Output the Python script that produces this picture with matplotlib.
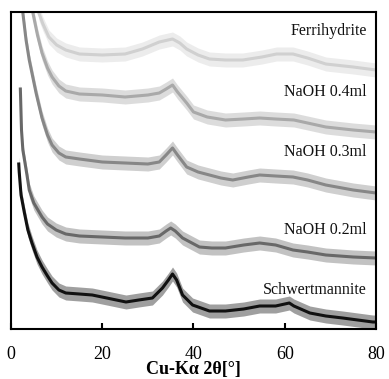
import matplotlib
matplotlib.use("Agg")
import matplotlib.pyplot as plt
import numpy as np

plt.rcParams['font.family'] = ['Liberation Serif', 'DejaVu Serif']

# --- data (intensity in arbitrary units) ---
x_schw = [1.7, 1.8, 2.2, 2.9, 3.7, 4.6, 5.7, 6.8, 8, 9, 10.5, 12, 15, 17.8, 21, 25.2, 28, 31,
          33.2, 34.5, 35.4, 36.3, 37.6, 39.8, 43.5, 47, 51, 54.5, 58, 61, 62, 65.5, 69, 72.7, 76, 79.3, 80]
y_schw = [165, 157, 134, 117, 99, 86, 72, 62, 53, 46, 39, 36, 35, 34, 31, 27, 29, 31,
          41, 49, 55, 49, 34, 24, 18, 18, 20, 23, 23, 26, 23, 16, 13, 11, 9, 7, 7]

x_02 = [2.05, 2.1, 2.3, 2.6, 3.5, 4, 5, 6.8, 8, 9.9, 12, 15, 20, 25, 30, 32.5, 34, 35, 36, 37.6,
        41.3, 44, 47, 51, 54.5, 58, 61.8, 65, 69, 75, 80]
y_02 = [240, 232, 199, 179, 154, 139, 126, 112, 105, 99, 95, 93, 92, 91, 91, 93, 98, 101, 98, 91,
        82, 81, 81, 84, 86, 84, 79, 77, 74, 72, 71]

x_03 = [2.4, 2.6, 3.3, 4, 5.5, 6.8, 8, 9, 10.5, 12, 15, 20, 25, 30, 32.5, 34, 35.4, 36.5, 38.5,
        41, 43.5, 46, 48.6, 52, 54.5, 58, 61.8, 65, 69, 75, 80]
y_03 = [330, 316, 289, 269, 236, 211, 194, 184, 176, 172, 170, 167, 166, 165, 167, 174, 181, 174, 162,
        157, 154, 151, 149, 152, 154, 153, 152, 149, 144, 139, 136]

x_04 = [4.6, 4.8, 5.8, 6.8, 8, 9, 10.5, 12, 15, 20, 25, 30, 32.5, 34, 35.4, 36.5, 38.5, 40,
        43, 47, 51, 54.5, 58, 62, 66, 69, 75, 80]
y_04 = [330, 316, 294, 276, 261, 252, 243, 238, 235, 234, 232, 234, 236, 240, 244, 237, 226, 217,
        212, 209, 210, 211, 210, 209, 205, 202, 199, 197]

x_ferri = [5.9, 6.1, 7, 8.3, 10, 12, 15, 20, 25, 28.8, 32.5, 35.4, 37, 38.5, 41, 43.5, 47, 50.8,
           55, 58.2, 61.8, 65, 69, 75, 80]
y_ferri = [330, 316, 305, 292, 284, 279, 275, 274, 275, 280, 287, 290, 286, 280, 274, 270, 269, 269,
           272, 275, 275, 271, 265, 262, 259]

labels = ["Ferrihydrite", "NaOH 0.4ml", "NaOH 0.3ml", "NaOH 0.2ml", "Schwertmannite"]
label_y = [298, 237, 177, 99, 39]
colors = ["#d0d0d0", "#a9a9a9", "#878787", "#686868", "#111111"]
xticks = [0, 20, 40, 60, 80]

series = [(x_ferri, y_ferri), (x_04, y_04), (x_03, y_03), (x_02, y_02), (x_schw, y_schw)]

fig = plt.figure(figsize=(3.89, 3.79), dpi=100)
ax = fig.add_axes([11 / 389, 1 - 329 / 379, (376 - 11) / 389, (329 - 12) / 379])

band = 7
for (xs, ys), c in zip(series, colors):
    xs = np.asarray(xs, float)
    ys = np.asarray(ys, float)
    ax.fill_between(xs, ys - band, ys + band, color=c, alpha=0.4, lw=0)
    ax.plot(xs, ys, color=c, lw=2.2, solid_joinstyle='round')

for lab, ly in zip(labels, label_y):
    ax.text(78.0, ly, lab, ha='right', va='center', fontsize=11.5, color='#111111')

ax.set_xlim(0, 80)
ax.set_ylim(0, 317)
ax.set_xticks(xticks)
ax.set_xticklabels([str(t) for t in xticks], fontsize=13)
ax.set_yticks([])
ax.tick_params(axis='x', direction='in', length=4, width=1.5, pad=12)
for s in ax.spines.values():
    s.set_linewidth(1.5)
ax.set_xlabel("Cu-Kα 2θ[°]", fontsize=13, fontweight='bold', labelpad=-1)

fig.savefig("out.png", dpi=100)
